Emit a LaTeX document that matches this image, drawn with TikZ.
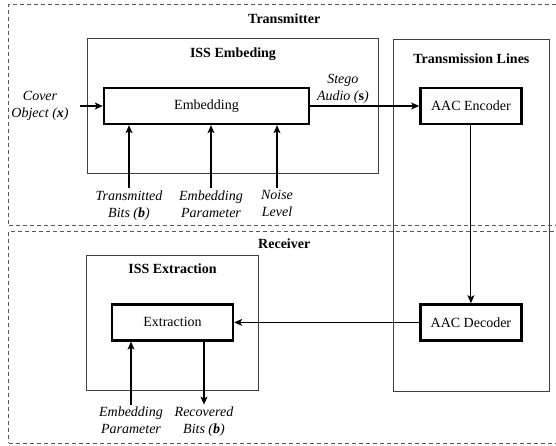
\documentclass[tikz,border=0pt]{standalone}
\usepackage{fontspec}
\setmainfont{Liberation Serif}
\usepackage{tikz}
\usetikzlibrary{arrows.meta, positioning, fit, calc}

\begin{document}
\begin{tikzpicture}[
      x=1pt, y=1pt,
      font=\fontsize{14}{17}\selectfont,
      % Styles
      stage/.style={
        rectangle, draw=black!65, dashed, dash pattern=on 4pt off 3pt,
        line width=0.9pt, inner sep=0pt
      },
      group/.style={
        rectangle, draw=black!75, line width=1.2pt, inner sep=0pt
      },
      block/.style={
        rectangle, draw, line width=2.4pt,
        minimum height=36pt, inner sep=0pt, align=center
      },
      heading/.style={
        font=\fontsize{14}{17}\selectfont\bfseries, inner sep=0pt
      },
      lbl/.style={
        font=\fontsize{14}{17}\selectfont\itshape, align=center, inner sep=2pt
      },
      arr/.style={
        -{Stealth[length=8pt, width=7pt, inset=2pt]}, line width=1.1pt
      }
    ]

    \useasboundingbox (0,0) rectangle (556,-446);

    % --- 1. NODES ---

    % Main blocks
    \node[block, minimum width=205pt] (embed) at (206.5,-106) {Embedding};
    \node[block, minimum width=101pt, right=109pt of embed] (encoder) {AAC Encoder};
    \node[block, minimum width=101pt, below=178pt of encoder] (decoder) {AAC Decoder};
    \node[block, minimum width=121pt, left=185pt of decoder] (extract) {Extraction};

    % Groups
    \node[group, fit={($(embed.north west)+(-15,48)$) ($(embed.south east)+(68,-48)$)}] (embgroup) {};
    \node[heading, below=9pt of embgroup.north] (embtitle) {ISS Embeding};

    \node[group, fit={($(encoder.north west)+(-26,47)$) ($(decoder.south east)+(27,-50)$)}] (lines) {};
    \node[heading, below=14pt of lines.north] (linestitle) {Transmission Lines};

    \node[group, fit={($(extract.north west)+(-24,48)$) ($(extract.south east)+(24,-49)$)}] (extgroup) {};
    \node[heading, below=9pt of extgroup.north] (exttitle) {ISS Extraction};

    % Stages
    \node[stage, fit={(8.5,-4) (560,-225)}] (transmitter) {};
    \node[heading, below=10pt of transmitter.north] (txtitle) {Transmitter};

    \node[stage, fit={(8.5,-231) (560,-443)}] (receiver) {};
    \node[heading, below=8pt of receiver.north] (rxtitle) {Receiver};

    % Inputs and outputs
    \node[lbl, left=32pt of embed] (cover) {Cover\\Object (\textbf{x})};
    \node[lbl, below=63pt of embed.south, xshift=-77.5pt] (bits) {Transmitted\\Bits (\textbf{b})};
    \node[lbl, below=63pt of embed.south, xshift=4.5pt] (param) {Embedding\\Parameter};
    \node[lbl, below=63pt of embed.south, xshift=70.5pt] (noise) {Noise\\Level};

    \node[lbl, below=63pt of extract.south, xshift=-41.5pt] (rxparam) {Embedding\\Parameter};
    \node[lbl, below=63pt of extract.south, xshift=31.5pt] (recovered) {Recovered\\Bits (\textbf{b})};

    % --- 2. EDGES ---

    \draw[arr, shorten <=9pt] (cover) -- (embed);
    \draw[arr] (embed) -- node[lbl, above, pos=0.3] {Stego\\Audio (\textbf{\upshape s})} (encoder);
    \draw[arr] (encoder) -- (decoder);
    \draw[arr] (decoder) -- (extract);

    \draw[arr] (bits) -- (bits |- embed.south);
    \draw[arr] (param) -- (param |- embed.south);
    \draw[arr] (noise) -- (noise |- embed.south);

    \draw[arr] (rxparam) -- (rxparam |- extract.south);
    \draw[arr] (recovered |- extract.south) -- (recovered);

    \end{tikzpicture}
\end{document}
